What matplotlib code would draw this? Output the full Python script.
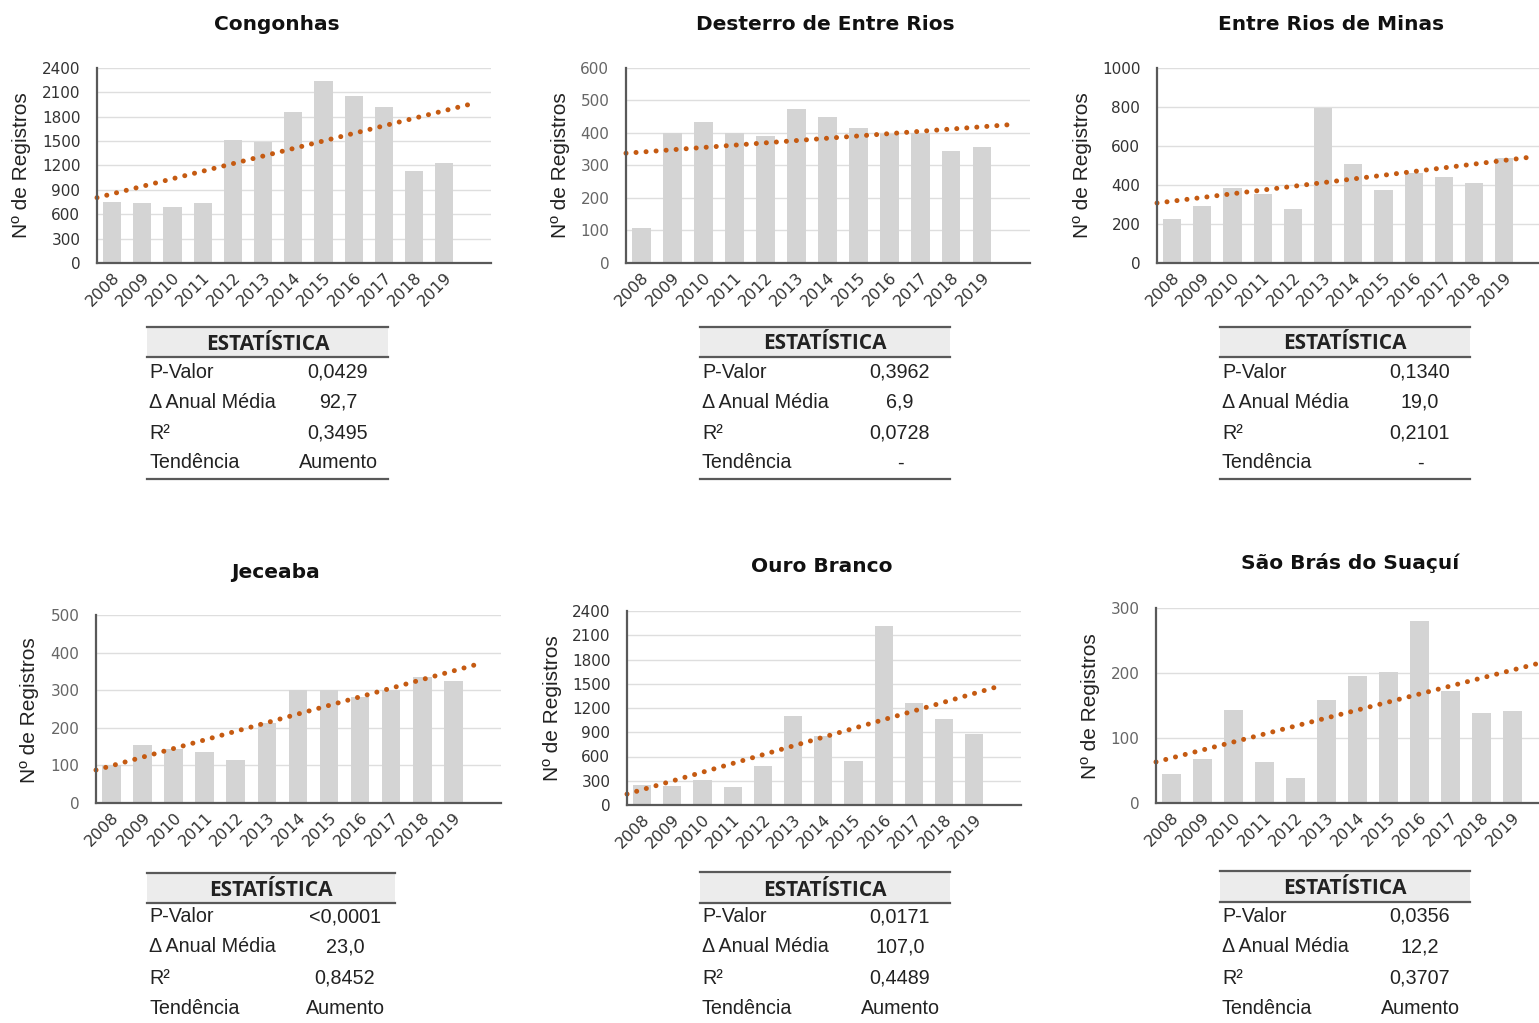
import matplotlib
matplotlib.use("Agg")
import matplotlib.pyplot as plt
import numpy as np
from matplotlib.lines import Line2D
from matplotlib.patches import Rectangle

W, H = 1539, 1023

years = ["2008", "2009", "2010", "2011", "2012", "2013", "2014", "2015",
         "2016", "2017", "2018", "2019"]

congonhas = [745, 733, 692, 737, 1519, 1490, 1861, 2239, 2054, 1922, 1132, 1227]
desterro = [109, 399, 433, 399, 391, 473, 450, 414, 396, 399, 344, 357]
entre_rios = [225, 290, 386, 353, 278, 796, 509, 372, 463, 441, 410, 537]
jeceaba = [100, 154, 144, 135, 115, 214, 300, 300, 281, 300, 334, 325]
ouro_branco = [248, 235, 310, 227, 479, 1099, 851, 549, 2210, 1268, 1062, 880]
sao_bras = [44, 67, 143, 63, 39, 159, 196, 201, 280, 172, 138, 141]

titles = ["Congonhas", "Desterro de Entre Rios", "Entre Rios de Minas",
          "Jeceaba", "Ouro Branco", "São Brás do Suaçuí"]

yticks_c = [0, 300, 600, 900, 1200, 1500, 1800, 2100, 2400]
yticks_d = [0, 100, 200, 300, 400, 500, 600]
yticks_e = [0, 200, 400, 600, 800, 1000]
yticks_j = [0, 100, 200, 300, 400, 500]
yticks_o = [0, 300, 600, 900, 1200, 1500, 1800, 2100, 2400]
yticks_s = [0, 100, 200, 300]

stat_labels = ["P-Valor", "Δ Anual Média", "R²", "Tendência"]
stats_c = ["0,0429", "92,7", "0,3495", "Aumento"]
stats_d = ["0,3962", "6,9", "0,0728", "-"]
stats_e = ["0,1340", "19,0", "0,2101", "-"]
stats_j = ["<0,0001", "23,0", "0,8452", "Aumento"]
stats_o = ["0,0171", "107,0", "0,4489", "Aumento"]
stats_s = ["0,0356", "12,2", "0,3707", "Aumento"]

BAR = "#d4d4d4"
TREND = "#c55a11"
SPINE = "#595959"
GRID = "#dedede"

fig = plt.figure(figsize=(W / 100, H / 100), dpi=100)
fig.patch.set_facecolor("white")

def fx(x):
    return x / W

def fy(y):
    return 1 - y / H

panels = [
    (congonhas, yticks_c, (97, 68, 263, 30.2), (277, 25), (22, 165), "#333333"),
    (desterro, yticks_d, (626, 68, 263, 30.97), (825, 25), (561, 165), "#666666"),
    (entre_rios, yticks_e, (1157, 68, 263, 30.2), (1331, 25), (1082, 165), "#333333"),
    (jeceaba, yticks_j, (96, 615, 803, 31.07), (276, 573), (30, 710), "#666666"),
    (ouro_branco, yticks_o, (627, 611, 805, 30.2), (822, 567), (553, 708), "#333333"),
    (sao_bras, yticks_s, (1156, 608, 803, 31.0), (1350, 563), (1090, 706), "#666666"),
]

x = np.arange(len(years))
for (vals, yt, (left, top, bottom, sp), tpos, ypos, tc), title in zip(panels, titles):
    xmin, xmax = -0.5, 12.55
    width = (xmax - xmin) * sp
    ax = fig.add_axes([fx(left), fy(bottom), width / W, (bottom - top) / H])
    ax.set_xlim(xmin, xmax)
    ax.set_ylim(yt[0], yt[-1])
    ax.bar(x, vals, width=0.6, color=BAR, zorder=2)
    coef = np.polyfit(x, np.array(vals, dtype=float), 1)
    xt = np.array([-0.5, 11.85])
    ax.plot(xt, np.polyval(coef, xt), color=TREND, lw=3.6,
            linestyle=(0, (0.01, 2.0)), dash_capstyle="round", zorder=3,
            clip_on=False)
    ax.set_yticks(yt)
    ax.set_yticklabels([str(v) for v in yt], fontsize=11,
                       fontfamily="DejaVu Sans", color=tc)
    ax.set_xticks(x)
    ax.set_xticklabels(years, rotation=45, ha="right", va="top",
                       rotation_mode="anchor", fontsize=11.5,
                       fontfamily="DejaVu Sans", color="#333333")
    ax.tick_params(axis="y", length=0, pad=12)
    ax.tick_params(axis="x", length=0, pad=5)
    for s in ["top", "right"]:
        ax.spines[s].set_visible(False)
    for s in ["left", "bottom"]:
        ax.spines[s].set_color(SPINE)
        ax.spines[s].set_linewidth(1.6)
        ax.spines[s].set_zorder(4)
    ax.yaxis.grid(True, color=GRID, lw=1.0, zorder=0)
    ax.set_axisbelow(True)
    fig.text(fx(tpos[0]), fy(tpos[1]), title, ha="center", va="center",
             fontsize=14.5, fontweight="bold", fontfamily="DejaVu Sans",
             color="#111111")
    fig.text(fx(ypos[0]), fy(ypos[1]), "Nº de Registros", ha="center",
             va="center", rotation=90, fontsize=15,
             fontfamily="Liberation Sans", color="#222222")

tables = [
    (147, 388, 327, 357, 345, [372, 402, 433, 463], 338, 479, stats_c),
    (700, 950, 327, 357, 344, [372, 402, 433, 463], 900, 479, stats_d),
    (1220, 1470, 327, 357, 344, [372, 402, 433, 463], 1420, 479, stats_e),
    (147, 395, 873, 903, 890, [917, 947, 978, 1008], 345, None, stats_j),
    (700, 950, 872, 903, 890, [917, 947, 978, 1008], 900, None, stats_o),
    (1220, 1470, 871, 902, 889, [916, 947, 978, 1008], 1420, None, stats_s),
]

for x0, x1, t, hb, hy, rows, vc, bl, vals in tables:
    fig.patches.append(Rectangle((fx(x0), fy(hb)), (x1 - x0) / W, (hb - t) / H,
                                 transform=fig.transFigure, facecolor="#ececec",
                                 edgecolor="none", zorder=1))
    for yy in [t, hb] + ([bl] if bl is not None else []):
        fig.add_artist(Line2D([fx(x0), fx(x1)], [fy(yy), fy(yy)],
                              transform=fig.transFigure, color=SPINE, lw=1.6))
    fig.text(fx((x0 + x1) / 2), fy(hy), "ESTATÍSTICA", ha="center", va="center",
             fontsize=15, fontweight="bold", fontfamily="Open Sans",
             color="#222222")
    for lab, val, yy in zip(stat_labels, vals, rows):
        fig.text(fx(x0 + 2), fy(yy), lab, ha="left", va="center", fontsize=14.2,
                 fontfamily="Liberation Sans", color="#222222")
        fig.text(fx(vc), fy(yy), val, ha="center", va="center", fontsize=14.2,
                 fontfamily="Liberation Sans", color="#222222")

fig.savefig("out.png", dpi=100, facecolor="white")
